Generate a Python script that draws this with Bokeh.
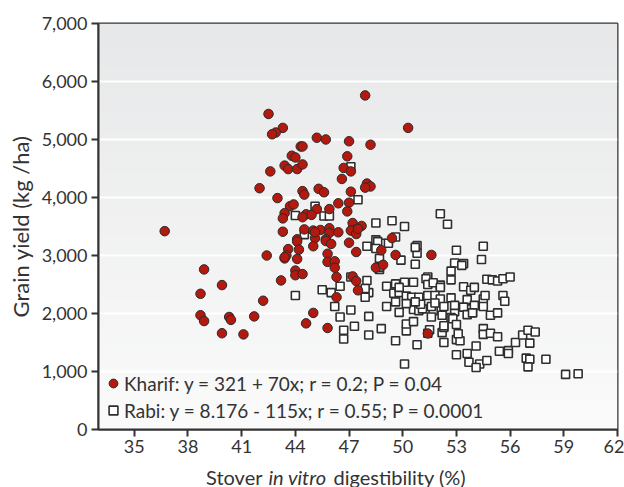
import numpy as np
from bokeh.plotting import figure
from bokeh.layouts import column
from bokeh.models import (Range1d, FixedTicker, NumeralTickFormatter, Legend,
                          LegendItem)
from bokeh.core.properties import value
from bokeh.embed import file_html
from bokeh.resources import INLINE

# Kharif season: stover in vitro digestibility (%) vs grain yield (kg/ha)
kharif_x = [42.5, 43.3, 42.9, 42.7, 44.3, 43.8, 44.0, 43.4, 43.6, 44.1,
            42.6, 42.0, 43.0, 43.7, 43.9, 43.4, 43.3, 36.7, 43.3, 44.1,
            47.9, 50.3, 45.2, 45.7, 47.0, 48.2, 44.4, 46.9, 44.4, 46.7,
            47.1, 46.6, 48.0, 48.2, 47.9, 44.4, 44.5, 45.3, 45.6, 47.1,
            46.4, 47.0, 45.2, 45.9, 46.9, 44.6, 44.9, 44.4, 47.2, 47.7,
            47.4, 47.1, 44.5, 45.0, 45.4, 45.9, 45.9, 46.4, 45.1, 45.7,
            47.4, 49.4, 42.4, 43.4, 43.6, 44.1, 44.1, 38.9, 39.9, 38.7,
            42.2, 43.2, 44.0, 44.0, 44.4, 45.0, 44.6, 41.7, 38.7, 38.9,
            40.3, 40.4, 39.9, 41.1, 43.5, 48.8, 49.6, 51.6, 48.5, 48.9,
            47.4, 47.0, 45.7, 44.2, 45.8, 45.8, 46.2, 46.2, 46.3, 47.2,
            47.4, 47.5, 46.3, 45.8, 51.4, 45.0, 46.0, 47.5, 43.4, 45.1]
kharif_y = [5440, 5200, 5120, 5090, 4880, 4720, 4690, 4550, 4490, 4490,
            4450, 4160, 3990, 3850, 3880, 3730, 3640, 3420, 3410, 3280,
            5760, 5200, 5030, 5000, 4970, 4910, 4880, 4710, 4570, 4510,
            4450, 4320, 4240, 4190, 4170, 4110, 4050, 4150, 4090, 4100,
            3900, 3910, 3800, 3800, 3760, 3710, 3700, 3660, 3560, 3510,
            3450, 3430, 3450, 3430, 3440, 3470, 3390, 3400, 3300, 3280,
            3370, 3300, 3000, 2950, 3110, 2940, 3240, 2760, 2490, 2340,
            2220, 2570, 2740, 2660, 2680, 2010, 1830, 1950, 1970, 1870,
            1940, 1890, 1660, 1640, 3000, 3090, 3010, 3010, 2790, 2840,
            3060, 3220, 3250, 3100, 3030, 2890, 2900, 2790, 2630, 2640,
            2560, 2400, 2280, 1750, 1655, 3160, 3200, 3460, 2970, 3400]

# Rabi season
rabi_x = [47.1, 47.5, 44.0, 45.1, 45.6, 45.9, 48.5, 49.4, 50.1, 52.1, 52.5,
          49.6, 48.5, 48.8, 48.0, 49.2, 50.8, 50.8, 48.7, 49.9, 50.7, 48.7,
          53.0, 54.5, 54.4, 52.9, 53.4, 53.3, 52.7, 52.7, 51.4, 51.3,
          54.7, 55.0, 55.3, 55.6, 56.0, 53.4, 53.8, 54.0, 55.6, 55.7,
          54.5, 54.6, 53.6, 52.7, 52.1, 51.4, 51.7, 52.1, 50.6, 50.1,
          49.6, 49.1, 49.5, 49.8, 50.2, 50.5, 50.9, 51.4, 51.8, 52.1,
          49.1, 49.8, 50.6, 50.9, 51.1, 51.7, 52.2, 52.9, 53.9, 54.5,
          54.9, 55.3, 47.1, 46.5, 48.1, 47.3, 46.7, 46.7, 48.1, 48.8,
          50.2, 49.6, 50.8, 50.1, 51.4, 52.2, 52.3, 53.0, 53.2, 53.0,
          53.6, 53.7, 54.1, 54.5, 54.5, 54.9, 55.3, 54.3, 54.1, 54.7,
          55.4, 55.9, 55.9, 56.3, 56.7, 57.0, 57.4, 57.1, 56.9, 57.1,
          57.0, 58.0, 59.1, 59.8, 48.0, 48.1, 47.9, 49.8, 50.2, 51.0,
          51.6, 52.3, 51.8, 52.7, 53.1, 52.3, 53.7, 53.4, 52.9, 54.0,
          53.6, 53.9, 52.8, 53.0, 52.3, 48.6, 48.5, 50.7, 48.7, 47.1,
          46.5, 45.5, 46.0, 46.2, 50.7, 49.6, 51.6, 50.2,
          50.6, 51.5, 44.5, 44.0, 47.9]
rabi_y = [4530, 3960, 3690, 3850, 3680, 3680, 3560, 3600, 3500, 3720, 3540,
          3320, 3270, 3210, 3160, 3210, 3170, 3040, 2950, 2920, 2850, 2760,
          3090, 3160, 2930, 2870, 2860, 2830, 2730, 2580, 2630, 2600,
          2590, 2580, 2560, 2600, 2630, 2460, 2400, 2450, 2310, 2210,
          2250, 2310, 2240, 2270, 2490, 2500, 2530, 2450, 2540, 2540,
          2510, 2470, 2350, 2360, 2300, 2280, 2280, 2310, 2310, 2250,
          2120, 2020, 2070, 2050, 2080, 2050, 1970, 2030, 2020, 2120,
          1970, 2010, 2060, 1940, 1950, 1780, 1710, 1560, 1630, 1740,
          1700, 1530, 1460, 1130, 1660, 1670, 1500, 1550, 1530, 1290,
          1310, 1160, 1440, 1740, 1640, 1660, 1600, 1130, 1070, 1190,
          1350, 1360, 1310, 1500, 1630, 1710, 1680, 1490, 1230, 1210,
          1080, 1210, 950, 960, 2570, 2360, 2280, 2450, 2170, 2160,
          2120, 2120, 2180, 1930, 1650, 1760, 2080, 2110, 2140, 2140,
          1980, 2010, 1910, 1810, 1790, 3240, 3120, 3140, 2800, 2630,
          2470, 2410, 2360, 2120, 2200, 2200, 1940, 1820,
          1860, 1720, 3360, 2310, 2430]

x_ticks = [35, 38, 41, 44, 47, 50, 53, 56, 59, 62]
y_ticks = [0, 1000, 2000, 3000, 4000, 5000, 6000, 7000]

kharif_label = "Kharif: y = 321 + 70x; r = 0.2; P = 0.04"
rabi_label = "Rabi: y = 8.176 - 115x; r = 0.55; P = 0.0001"

FONT = "Lato"
INK = "#333333"

p = figure(width=624, height=462, output_backend="svg", toolbar_location=None,
           x_range=Range1d(33, 62), y_range=Range1d(0, 7000),
           min_border_left=98, min_border_right=7, min_border_top=23,
           min_border_bottom=33, background_fill_color="#f1f1f2",
           border_fill_color="white")

# soft vertical gradient behind the data (light at bottom, grey at top)
n = 120
t = np.linspace(0, 1, n)
bottom = np.array([251, 251, 251])
top = np.array([231, 232, 233])
rgb = (bottom[None, :] * (1 - t[:, None]) + top[None, :] * t[:, None]).astype(np.uint32)
img = np.empty((n, 2), dtype=np.uint32)
view = img.view(dtype=np.uint8).reshape((n, 2, 4))
for c in range(3):
    view[:, :, c] = rgb[:, c][:, None]
view[:, :, 3] = 255
grad = p.image_rgba(image=[img], x=33, y=0, dw=29, dh=7000)
grad.level = "image"

p.xgrid.grid_line_color = None
p.ygrid.grid_line_color = "white"
p.ygrid.grid_line_width = 2
p.ygrid.ticker = FixedTicker(ticks=y_ticks)

r_rabi = p.scatter(rabi_x, rabi_y, marker="square", size=8, fill_color="white",
                   line_color="#2e2e2e", line_width=1.6)
r_kharif = p.scatter(kharif_x, kharif_y, marker="circle", size=9.5,
                     fill_color="#b3190f", line_color="#2a2a2a", line_width=1)

p.outline_line_color = INK
p.outline_line_width = 2

for ax in (p.xaxis[0], p.yaxis[0]):
    ax.axis_line_color = INK
    ax.axis_line_width = 2
    ax.major_tick_line_color = INK
    ax.major_tick_line_width = 2
    ax.major_tick_out = 7
    ax.major_tick_in = 0
    ax.minor_tick_line_color = None
    ax.major_label_text_font = FONT
    ax.major_label_text_font_size = "18px"
    ax.major_label_text_color = INK

p.xaxis.ticker = FixedTicker(ticks=x_ticks)
p.xaxis.major_label_standoff = 3
p.yaxis.ticker = FixedTicker(ticks=y_ticks)
p.yaxis.formatter = NumeralTickFormatter(format="0,0")
p.yaxis.major_label_standoff = 4
p.yaxis.axis_label = "Grain yield (kg /ha)"
p.yaxis.axis_label_text_font = FONT
p.yaxis.axis_label_text_font_size = "22px"
p.yaxis.axis_label_text_font_style = "normal"
p.yaxis.axis_label_text_color = INK
p.yaxis.axis_label_standoff = 5

legend = Legend(items=[LegendItem(label=kharif_label, renderers=[r_kharif]),
                       LegendItem(label=rabi_label, renderers=[r_rabi])],
                location=(4, 7), padding=0, margin=0, spacing=3,
                glyph_width=22, glyph_height=24, label_height=24,
                label_standoff=0, label_text_font=FONT,
                label_text_font_size="19px", label_text_color=INK,
                background_fill_alpha=0, border_line_alpha=0)
p.add_layout(legend)

# x-axis title strip (frame lined up with the plot frame); "in vitro" in italics
cap = figure(width=624, height=25, output_backend="svg", toolbar_location=None,
             x_range=Range1d(0, 519), y_range=Range1d(0, 25),
             x_axis_location=None, y_axis_location=None,
             min_border_left=98, min_border_right=7, min_border_top=0,
             min_border_bottom=0, outline_line_color=None,
             background_fill_color="white", border_fill_color="white")
cap.grid.visible = False
for txt, xs, align, style in [("Stover", 164, "right", "normal"),
                              ("in vitro", 199, "center", "italic"),
                              ("digestibility (%)", 235, "left", "normal")]:
    cap.text(x=[xs], y=[11], text=[txt], text_align=value(align),
             text_baseline=value("alphabetic"), text_font=value(FONT),
             text_font_size=value("20px"), text_font_style=value(style),
             text_color=INK)

layout = column(p, cap, spacing=0)
open("out.html", "w").write(file_html(layout, INLINE))
